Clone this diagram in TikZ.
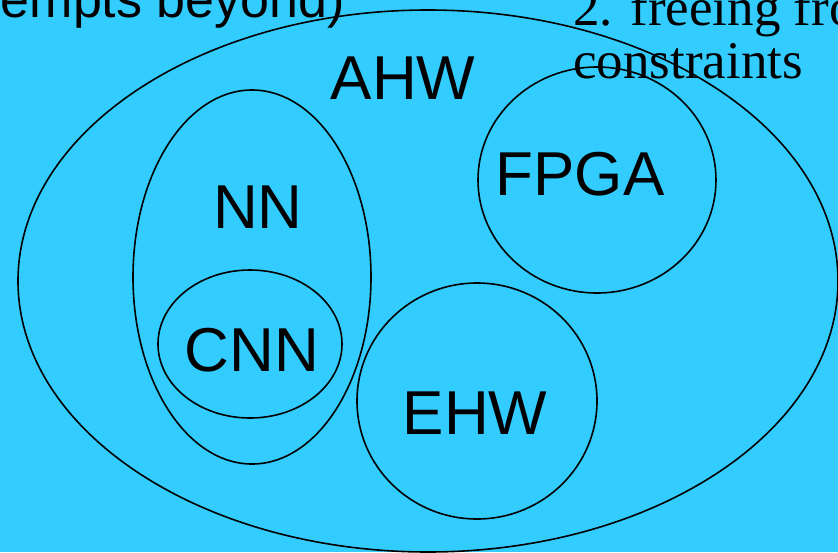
\documentclass[tikz,border=0pt]{standalone}
\usepackage{fontspec}
\setmainfont{Liberation Sans}
\newfontfamily\serifface{Liberation Serif}
\definecolor{bgblue}{HTML}{33CCFF}
\begin{document}
\begin{tikzpicture}[x=1pt,y=-1pt,
  venn/.style={draw=black,line width=1.6pt},
  lab/.style={font=\fontsize{62}{70}\selectfont,inner sep=0pt},
  toptext/.style={font=\fontsize{52}{58}\selectfont,inner sep=0pt},
  sertext/.style={font=\serifface\fontsize{53}{53}\selectfont,inner sep=0pt}]
\useasboundingbox (0,0) rectangle (838,552);
\fill[bgblue] (0,0) rectangle (838,552);
\begin{scope}
\clip (0,0) rectangle (838,552);
\draw[venn] (428,281) ellipse [x radius=410, y radius=271];
\draw[venn] (252,277) ellipse [x radius=119, y radius=187];
\draw[venn] (250,344) ellipse [x radius=92, y radius=74];
\draw[venn] (597,180) ellipse [x radius=119, y radius=113];
\draw[venn] (477,401) ellipse [x radius=120, y radius=118];
\node[toptext,anchor=base east] (t1) at (345,17) {empts beyond)};
\node[sertext,anchor=base west] (t2) at (573,25) {2. freeing fro};
\node[sertext,anchor=base west] (t3) at (573,78) {constraints};
\end{scope}
\node[lab] (ahw) at (403,78) {AHW};
\node[lab] (nn) at (258,207) {NN};
\node[lab] (cnn) at (252,350) {CNN};
\node[lab] (fpga) at (580,174) {FPGA};
\node[lab] (ehw) at (475,413) {EHW};
\end{tikzpicture}
\end{document}
